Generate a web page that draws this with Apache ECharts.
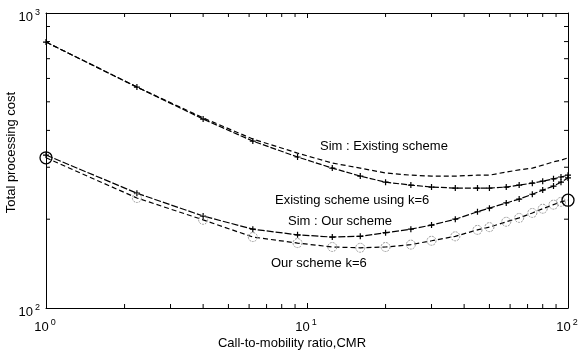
<!DOCTYPE html>
<html>
<head>
<meta charset="utf-8">
<script src="https://cdn.jsdelivr.net/npm/echarts@6/dist/echarts.min.js"></script>
<style>html,body{margin:0;padding:0;background:#fff;}#c{width:580px;height:355px;}</style>
</head>
<body>
<div id="c"></div>
<script>
// ---- data ----
const cmr = [1, 2.23, 4, 6.2, 9.2, 12.5, 16, 20, 25, 30, 37, 45, 50, 58, 65, 73, 80, 88, 94, 100];
const simExisting   = [797, 561, 441, 374, 335, 310, 298, 287, 282, 280, 280, 282, 282, 289, 294, 298, 305, 313, 317, 323];
const existingK6    = [797, 561, 437, 368, 325, 298, 280, 267, 261, 257, 255, 255, 255, 257, 261, 265, 269, 274, 278, 282];
const simOurScheme  = [330, 245, 205, 185, 177, 174, 175, 180, 185, 191, 200, 212, 218, 227, 234, 243, 251, 259, 267, 276];
const ourSchemeK6   = [323, 236, 199, 174, 166, 161, 160, 161, 164, 169, 175, 184, 188, 196, 202, 210, 217, 224, 229, 232];
const xMinorTicks = [2, 3, 4, 5, 6, 7, 8, 9, 20, 30, 40, 50, 60, 70, 80, 90];
const yMinorTicks = [200, 300, 400, 500, 600, 700, 800, 900];
const xRange = [1, 100];
const yRange = [100, 1000];
const labels = {
  simExisting: 'Sim : Existing scheme',
  existingK6: 'Existing scheme using k=6',
  simOur: 'Sim : Our scheme',
  ourK6: 'Our scheme k=6',
  xName: 'Call-to-mobility ratio,CMR',
  yName: 'Total processing cost'
};

const FONT = 'Liberation Sans, Arial, Helvetica, sans-serif';
const pair = (xs, ys) => xs.map((x, i) => [x, ys[i]]);
const plus = 'path://M4,0H6V4H10V6H6V10H4V6H0V4H4Z';
const powLabel = v => '{b|10}{s|' + Math.round(Math.log10(v)) + '}';
const rich = {
  b: {fontSize: 13, fontFamily: FONT, color: '#000', lineHeight: 18},
  s: {fontSize: 9, fontFamily: FONT, color: '#000', lineHeight: 18, verticalAlign: 'top', padding: [0, 0, 0, 2]}
};

const chart = echarts.init(document.getElementById('c'), null, {renderer: 'canvas'});

const circleData = pair(cmr, ourSchemeK6).map((p, i, arr) => {
  if (i === 0 || i === arr.length - 1) {
    return {value: p, symbolSize: 12, itemStyle: {borderColor: '#000', borderWidth: 1.3, borderType: 'solid'}};
  }
  return {value: p};
});

function tickSeries(values, dir) {
  return {
    type: 'custom',
    silent: true,
    clip: false,
    xAxisIndex: 0, yAxisIndex: 0,
    data: values.map(v => dir === 'x' ? [v, yRange[0]] : [xRange[0], v]),
    renderItem: (params, api) => {
      const L = 4;
      let a, b, shapes;
      if (dir === 'x') {
        a = api.coord([api.value(0), yRange[0]]);
        b = api.coord([api.value(0), yRange[1]]);
        shapes = [
          {x1: a[0], y1: a[1], x2: a[0], y2: a[1] - L},
          {x1: b[0], y1: b[1], x2: b[0], y2: b[1] + L}
        ];
      } else {
        a = api.coord([xRange[0], api.value(1)]);
        b = api.coord([xRange[1], api.value(1)]);
        shapes = [
          {x1: a[0], y1: a[1], x2: a[0] + L, y2: a[1]},
          {x1: b[0], y1: b[1], x2: b[0] - L, y2: b[1]}
        ];
      }
      return {type: 'group', children: shapes.map(s => ({type: 'line', shape: s, style: {stroke: '#000', lineWidth: 1}}))};
    }
  };
}

const option = {
  backgroundColor: '#fff',
  animation: false,
  grid: {left: 46, right: 12, top: 13, bottom: 47, containLabel: false, outerBoundsMode: 'none'},
  xAxis: [{
    type: 'log', logBase: 10, min: xRange[0], max: xRange[1],
    name: labels.xName, nameLocation: 'middle', nameGap: 29, nameMoveOverlap: false,
    nameTextStyle: {fontSize: 13, fontFamily: FONT, color: '#000', padding: [0, 30, 0, 0]},
    axisLine: {show: true, onZero: false, lineStyle: {color: '#000', width: 1}},
    axisTick: {show: true, inside: true, length: 5, lineStyle: {color: '#000'}},
    axisLabel: {formatter: powLabel, rich: rich, margin: 10, padding: [0, 2, 0, 0]},
    splitLine: {show: false}, minorTick: {show: false}
  }, {
    type: 'log', logBase: 10, min: xRange[0], max: xRange[1], position: 'top',
    axisLine: {show: true, onZero: false, lineStyle: {color: '#000', width: 1}},
    axisTick: {show: true, inside: true, length: 5, lineStyle: {color: '#000'}},
    axisLabel: {show: false}, splitLine: {show: false}
  }],
  yAxis: [{
    type: 'log', logBase: 10, min: yRange[0], max: yRange[1],
    name: labels.yName, nameLocation: 'middle', nameGap: 28, nameRotate: 90, nameMoveOverlap: false,
    nameTextStyle: {fontSize: 13, fontFamily: FONT, color: '#000', padding: [0, 0, 0, 16]},
    axisLine: {show: true, onZero: false, lineStyle: {color: '#000', width: 1}},
    axisTick: {show: true, inside: true, length: 5, lineStyle: {color: '#000'}},
    axisLabel: {formatter: powLabel, rich: rich, margin: 6, padding: [8, 0, 0, 0]},
    splitLine: {show: false}
  }, {
    type: 'log', logBase: 10, min: yRange[0], max: yRange[1], position: 'right',
    axisLine: {show: true, onZero: false, lineStyle: {color: '#000', width: 1}},
    axisTick: {show: true, inside: true, length: 5, lineStyle: {color: '#000'}},
    axisLabel: {show: false}, splitLine: {show: false}
  }],
  series: [
    {
      name: labels.simExisting, type: 'line', data: pair(cmr, simExisting),
      showSymbol: false, symbol: 'none',
      lineStyle: {color: '#000', width: 1.2, type: [5, 3]}
    },
    {
      name: labels.existingK6, type: 'line', data: pair(cmr, existingK6),
      symbol: plus, symbolSize: 6, showSymbol: true,
      itemStyle: {color: '#000'},
      lineStyle: {color: '#000', width: 1.2, type: [6, 2]}
    },
    {
      name: labels.simOur, type: 'line', data: pair(cmr, simOurScheme),
      symbol: plus, symbolSize: 6, showSymbol: true,
      itemStyle: {color: '#000'},
      lineStyle: {color: '#000', width: 1.2, type: [7, 2]}
    },
    {
      name: labels.ourK6, type: 'line', data: circleData,
      symbol: 'circle', symbolSize: 9, showSymbol: true,
      itemStyle: {color: 'rgba(0,0,0,0)', borderColor: '#999', borderWidth: 1, borderType: [2, 1]},
      lineStyle: {color: '#000', width: 1.2, type: [5, 3]}
    },
    tickSeries(xMinorTicks, 'x'),
    tickSeries(yMinorTicks, 'y')
  ],
  graphic: [
    {type: 'text', left: 320, top: 140, style: {text: labels.simExisting, font: '13px ' + FONT, fill: '#000'}},
    {type: 'text', left: 275, top: 194, style: {text: labels.existingK6, font: '13px ' + FONT, fill: '#000'}},
    {type: 'text', left: 288, top: 215, style: {text: labels.simOur, font: '13px ' + FONT, fill: '#000'}},
    {type: 'text', left: 271, top: 257, style: {text: labels.ourK6, font: '13px ' + FONT, fill: '#000'}}
  ]
};
chart.setOption(option);
</script>
</body>
</html>
